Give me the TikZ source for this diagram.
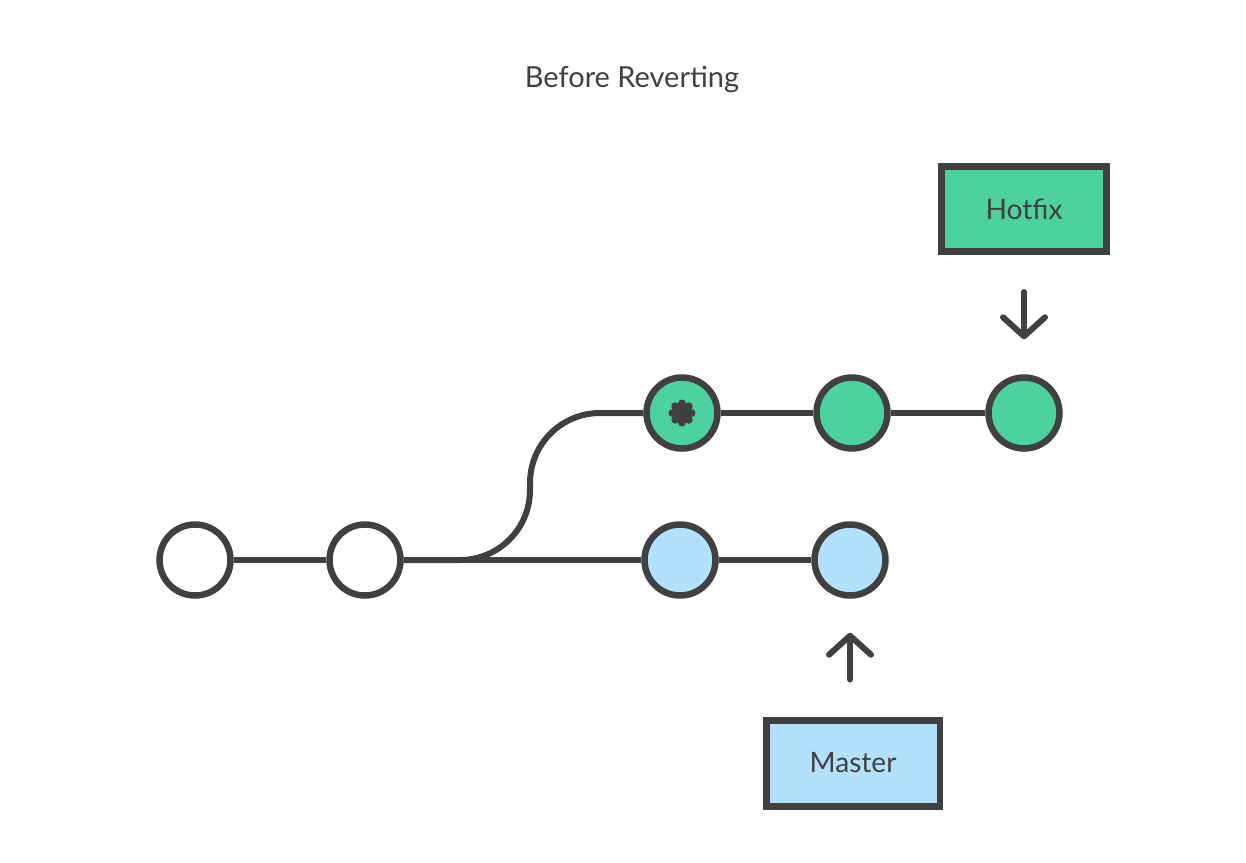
\documentclass[tikz,border=0pt]{standalone}
\usepackage{fontspec}
\setmainfont{Lato}
\usetikzlibrary{arrows.meta}

\definecolor{ink}{HTML}{404040}
\definecolor{hotgreen}{HTML}{4DD1A0}
\definecolor{masterblue}{HTML}{B3E1FD}

\tikzset{
	edge/.style={draw=ink, line width=0.12cm},
	commit/.style={circle, draw=ink, line width=0.13cm, minimum size=1.42cm, inner sep=0pt},
	branch/.style={rectangle, draw=ink, line width=0.14cm, text=ink, inner sep=0pt, font=\fontsize{16}{18}\selectfont},
	ptr/.style={draw=ink, line width=0.12cm, line cap=round,
		-{Straight Barb[length=0.38cm, width=0.84cm, round]}}
}

\begin{document}
\begin{tikzpicture}[x=0.02cm, y=-0.02cm]
	\useasboundingbox (0,0) rectangle (1246,862);

	\node[text=ink, font=\fontsize{16.5}{19}\selectfont] (title) at (632,80) {Before Reverting};

	% main line
	\node[commit, fill=white] (c1) at (195,560) {};
	\node[commit, fill=white] (c2) at (365,560) {};
	\node[commit, fill=masterblue] (m1) at (680,560) {};
	\node[commit, fill=masterblue] (m2) at (850,560) {};

	% hotfix line
	\node[commit, fill=hotgreen] (h1) at (682,413) {};
	\node[commit, fill=hotgreen] (h2) at (852,413) {};
	\node[commit, fill=hotgreen] (h3) at (1024,413) {};

	\foreach \a in {0,45,...,315}
		\fill[ink] (h1) ++(\a:9.5) circle (4);
	\fill[ink] (h1) circle (7.5);

	\draw[edge] (c1) -- (c2);
	\draw[edge] (c2) -- (m1);
	\draw[edge] (m1) -- (m2);
	\draw[edge] (h1) -- (h2);
	\draw[edge] (h2) -- (h3);
	\draw[edge] (c2.east) -- (460,560) arc[start angle=90, end angle=0, radius=70]
		-- (530,483) arc[start angle=180, end angle=270, radius=70] -- (h1);

	% labels
	\node[branch, fill=hotgreen, minimum width=3.3cm, minimum height=1.7cm] (hotfix) at (1024,209) {Hotfix};
	\node[branch, fill=masterblue, minimum width=3.48cm, minimum height=1.72cm] (master) at (853,763) {Master};

	\draw[ptr, shorten <=0.74cm, shorten >=0.7cm] (hotfix) -- (h3);
	\draw[ptr, shorten <=0.74cm, shorten >=0.68cm] (master.north -| m2) -- (m2);

\end{tikzpicture}
\end{document}
